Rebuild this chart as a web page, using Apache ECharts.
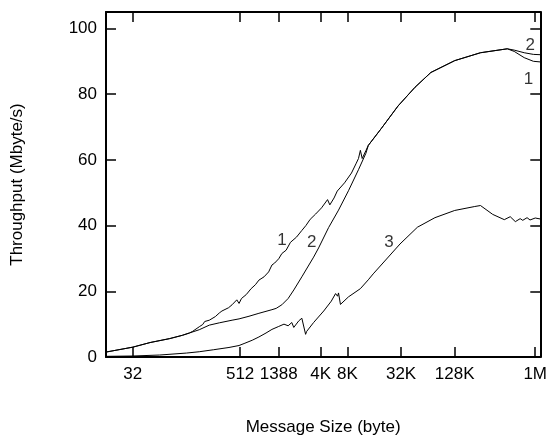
<!DOCTYPE html>
<html><head><meta charset="utf-8">
<script src="https://cdn.jsdelivr.net/npm/echarts@6/dist/echarts.min.js"></script>
<style>html,body{margin:0;padding:0;background:#fff}#c{width:550px;height:441px}</style>
</head><body><div id="c"></div>
<script>
// Message sizes (bytes) and throughput (Mbyte/s) for each curve
const sizes1 = [16, 32, 50, 83, 115, 138, 150, 178, 195, 205, 212, 231, 270, 299, 320, 330, 380, 416, 470, 498, 530, 600, 620, 680, 760, 790, 832, 950, 1000, 1070, 1165, 1250, 1388, 1506, 1560, 1680, 1880, 1950, 2200, 2520, 2600, 2800, 3130, 3250, 3600, 4200, 4400, 4900, 5200, 5800, 6300, 7600, 9100, 10300, 10900, 11450, 12000, 13200, 14050, 19600, 30300, 47000, 70800, 131072, 255000, 510000, 610000, 790000, 1000000, 1200000];
const thr1   = [1.5, 3.0, 4.4, 5.6, 6.6, 7.3, 7.8, 9.2, 9.9, 10.8, 10.2, 11.2, 12.3, 13.4, 14.0, 13.4, 15.0, 15.9, 17.4, 16.3, 17.8, 19.0, 18.4, 20.8, 22.0, 21.6, 23.4, 24.4, 24.0, 25.9, 28.0, 28.6, 29.9, 31.5, 31.0, 32.5, 34.9, 34.4, 36.5, 38.5, 38.0, 40.0, 41.9, 41.4, 43.5, 45.4, 45.0, 47.9, 46.3, 48.4, 50.5, 53.0, 56.0, 59.0, 60.4, 62.9, 60.4, 62.8, 64.4, 69.5, 76.4, 82.1, 86.6, 90.2, 92.6, 93.8, 93.0, 91.1, 90.0, 89.8];

const sizes2 = [16, 32, 50, 83, 115, 138, 178, 231, 299, 416, 498, 644, 832, 1165, 1300, 1506, 1770, 2050, 2522, 3420, 3890, 5040, 6510, 8420, 10900, 13200, 14050, 19600, 30300, 47000, 70800, 131072, 255000, 510000, 610000, 790000, 1000000, 1200000];
const thr2   = [1.5, 3.0, 4.4, 5.6, 6.6, 7.3, 8.3, 9.7, 10.4, 11.2, 11.6, 12.4, 13.3, 14.4, 14.8, 15.9, 17.8, 20.4, 24.4, 30.4, 33.2, 39.4, 44.7, 50.6, 57.0, 62.0, 64.4, 69.5, 76.4, 82.1, 86.6, 90.2, 92.6, 93.8, 93.4, 92.6, 92.1, 92.0];

const sizes3 = [16, 32, 64, 128, 178, 256, 384, 498, 580, 700, 832, 1000, 1165, 1388, 1590, 1770, 1946, 2048, 2330, 2522, 2650, 2780, 2860, 3420, 4440, 5400, 6030, 6350, 6510, 6840, 7030, 8420, 11450, 14050, 15950, 19600, 31900, 50000, 78600, 131072, 220000, 255000, 350000, 472000, 550000, 628000, 711000, 760000, 850000, 917000, 1050000, 1200000];
const thr3   = [0.2, 0.3, 0.6, 1.2, 1.6, 2.2, 2.9, 3.5, 4.2, 5.1, 6.1, 7.3, 8.4, 9.3, 10.0, 9.5, 10.5, 9.0, 11.0, 11.8, 12.2, 6.9, 7.8, 10.5, 14.0, 17.0, 19.3, 18.5, 19.5, 16.0, 15.9, 18.3, 20.8, 23.5, 25.3, 28.0, 34.4, 39.5, 42.4, 44.6, 45.8, 46.1, 43.4, 41.8, 42.7, 41.2, 42.1, 41.6, 42.4, 41.7, 42.3, 42.0];

// Axis ticks
const xTickSizes  = [32, 512, 1388, 4096, 8192, 32768, 131072, 1048576];
const xTickLabels = ['32', '512', '1388', '4K', '8K', '32K', '128K', '1M'];
const yTicks = [0, 20, 40, 60, 80, 100];

// Curve annotations: [label, size (bytes), throughput]
const annotations = [
  ['1', 1506, 35.5], ['2', 3250, 34.9], ['3', 24000, 34.9],
  ['2', 920000, 95.0], ['1', 880000, 84.5]
];

const lg = v => Math.log2(v);
const xTickPos = xTickSizes.map(lg);
const toPairs = (s, t) => s.map((v, i) => [lg(v), t[i]]);
const FONT = 'Liberation Sans, Arial, sans-serif';
const FS = 17;

const labelFor = v => {
  let best = 0, d = Infinity;
  xTickPos.forEach((p, i) => { const dd = Math.abs(p - v); if (dd < d) { d = dd; best = i; } });
  return d < 1e-6 ? xTickLabels[best] : '';
};

const frameLine = { show: true, onZero: false, lineStyle: { color: '#000', width: 2 } };
const tickStyle = { color: '#000', width: 1.5 };

const chart = echarts.init(document.getElementById('c'), null, { renderer: 'canvas' });
const lineSeries = (s, t) => ({
  type: 'line', data: toPairs(s, t), showSymbol: false, symbol: 'none',
  lineStyle: { color: '#000', width: 1 }, silent: true, z: 3
});
chart.setOption({
  animation: false,
  backgroundColor: '#fff',
  grid: { left: 106, right: 7, top: 12, bottom: 80 },
  xAxis: [
    {
      type: 'value', min: 4, max: 20.19, position: 'bottom',
      axisLine: frameLine,
      axisTick: { show: true, inside: true, length: 10, lineStyle: tickStyle, customValues: xTickPos },
      axisLabel: { show: true, customValues: xTickPos, formatter: labelFor, color: '#000', fontFamily: FONT, fontSize: FS, margin: 9 },
      splitLine: { show: false },
      name: 'Message Size (byte)', nameLocation: 'middle', nameGap: 62,
      nameTextStyle: { color: '#000', fontFamily: FONT, fontSize: FS }
    },
    {
      type: 'value', min: 4, max: 20.19, position: 'top',
      axisLine: frameLine,
      axisTick: { show: true, inside: true, length: 10, lineStyle: tickStyle, customValues: xTickPos },
      axisLabel: { show: false },
      splitLine: { show: false }
    }
  ],
  yAxis: [
    {
      type: 'value', min: 0, max: 105, position: 'left',
      axisLine: frameLine,
      axisTick: { show: true, inside: true, length: 10, lineStyle: tickStyle, customValues: yTicks },
      axisLabel: { show: true, customValues: yTicks, color: '#000', fontFamily: FONT, fontSize: FS, margin: 9 },
      splitLine: { show: false },
      name: 'Throughput (Mbyte/s)', nameLocation: 'middle', nameGap: 80, nameRotate: 90,
      nameTextStyle: { color: '#000', fontFamily: FONT, fontSize: FS }
    },
    {
      type: 'value', min: 0, max: 105, position: 'right',
      axisLine: frameLine,
      axisTick: { show: true, inside: true, length: 10, lineStyle: tickStyle, customValues: yTicks },
      axisLabel: { show: false },
      splitLine: { show: false }
    }
  ],
  series: [
    lineSeries(sizes1, thr1),
    lineSeries(sizes2, thr2),
    lineSeries(sizes3, thr3),
    {
      type: 'scatter', symbolSize: 0, silent: true, z: 4,
      data: annotations.map(a => ({ value: [lg(a[1]), a[2]], label: { formatter: a[0] } })),
      label: { show: true, position: 'inside', color: '#000', fontFamily: FONT, fontSize: FS }
    }
  ]
});
</script>
</body></html>
